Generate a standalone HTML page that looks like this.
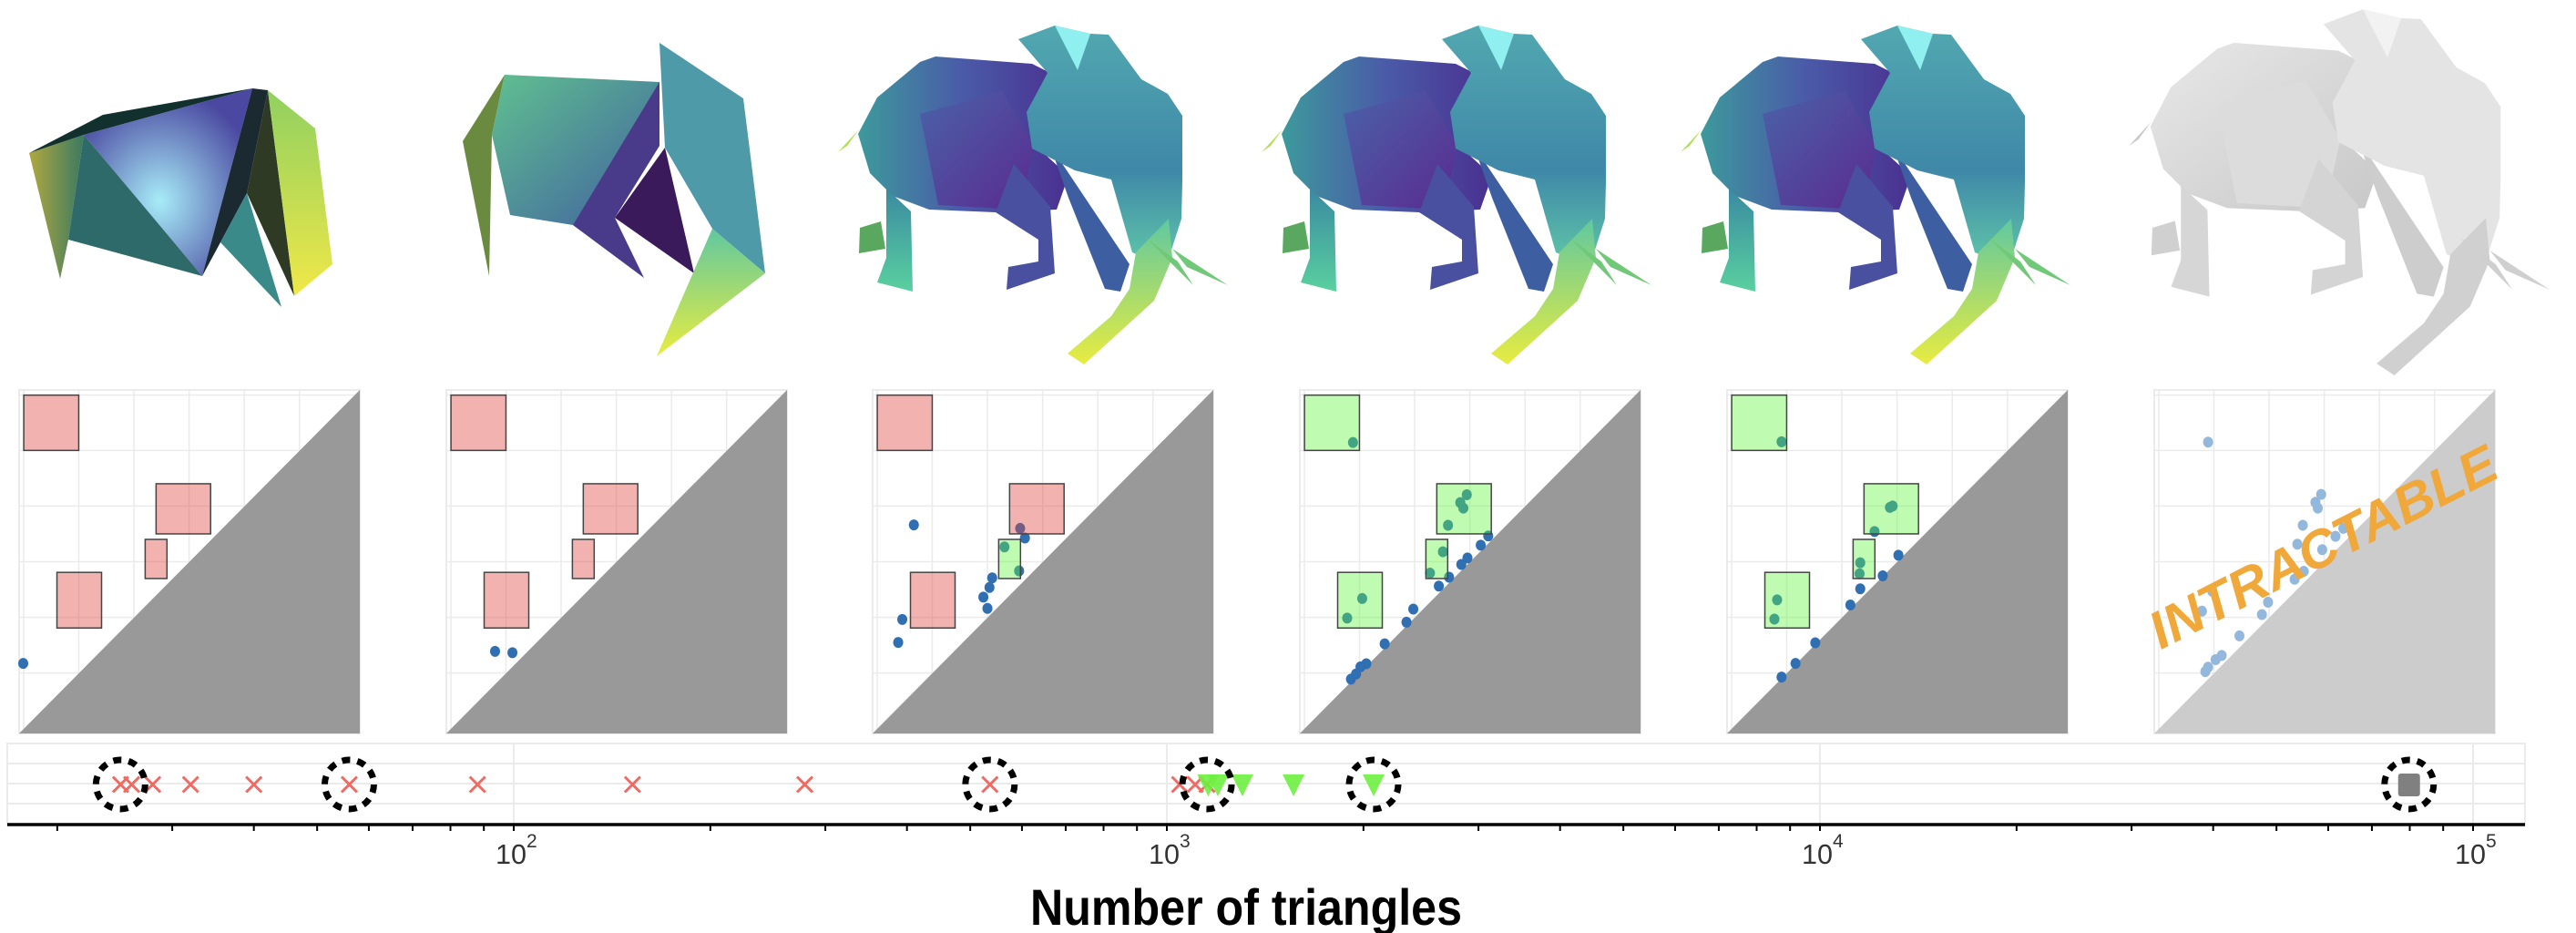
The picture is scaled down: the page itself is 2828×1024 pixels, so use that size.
<!DOCTYPE html>
<html><head><meta charset="utf-8"><style>
html,body{margin:0;padding:0;background:#fff;}
svg{display:block;}
</style></head><body>
<svg id="fig" width="2828" height="1024" viewBox="0 0 2828 1024" xmlns="http://www.w3.org/2000/svg">
<defs>
<linearGradient id="gBody" x1="0" y1="0" x2="1" y2="0"><stop offset="0" stop-color="#3d9a9c"/><stop offset="0.5" stop-color="#4a5aa8"/><stop offset="1" stop-color="#4a3090"/></linearGradient>
<linearGradient id="gHead" x1="0" y1="0" x2="0" y2="1"><stop offset="0" stop-color="#52a8b0"/><stop offset="0.6" stop-color="#3f88a8"/><stop offset="1" stop-color="#60c8a8"/></linearGradient>
<linearGradient id="gTrunk" x1="0" y1="0" x2="0" y2="1"><stop offset="0" stop-color="#60c8a0"/><stop offset="1" stop-color="#e8ec40"/></linearGradient>
<linearGradient id="gLeg" x1="0" y1="0" x2="0" y2="1"><stop offset="0" stop-color="#3a8aa0"/><stop offset="1" stop-color="#5ad0a0"/></linearGradient>
<linearGradient id="gGray" x1="0" y1="0" x2="1" y2="1"><stop offset="0" stop-color="#e8e8e8"/><stop offset="1" stop-color="#c8c8c8"/></linearGradient>
<linearGradient id="gFlank" x1="0" y1="0" x2="1" y2="1"><stop offset="0" stop-color="#4a62a8"/><stop offset="1" stop-color="#5a2a90"/></linearGradient>
<radialGradient id="gLight" cx="0.45" cy="0.6" r="0.6"><stop offset="0" stop-color="#a8ecf8"/><stop offset="1" stop-color="#4a48a0"/></radialGradient>
<linearGradient id="gYel" x1="0" y1="0" x2="0" y2="1"><stop offset="0" stop-color="#90d060"/><stop offset="1" stop-color="#f0e848"/></linearGradient>
<linearGradient id="gOlive" x1="0" y1="0" x2="1" y2="0"><stop offset="0" stop-color="#b0a840"/><stop offset="1" stop-color="#3a7a60"/></linearGradient>
<linearGradient id="gTeal2" x1="0" y1="0" x2="1" y2="1"><stop offset="0" stop-color="#60c090"/><stop offset="1" stop-color="#4060a0"/></linearGradient>
</defs>
<g id="meshes"></g>
<g id="panels"></g>
<g id="strip"></g>
</svg>
<script>
// ---- strip data ----
const crossCounts = [25, 26, 28, 32, 40, 56, 88, 152, 279, 536, 1046, 1105, 1152];
const triCounts = [1157, 1197, 1305, 1563, 2073];
const squareCounts = [79800];
const circledCounts = [25, 56, 536, 1152, 2073, 79800];
const decadeLabels = ["2", "3", "4", "5"];
const decadeValues = [100, 1000, 10000, 100000];

// ---- panel data (u: birth fraction, v: death fraction) ----
const boxU0 = [0.0136, 0.402, 0.370, 0.111];
const boxU1 = [0.175, 0.562, 0.434, 0.242];
const boxV0 = [0.824, 0.581, 0.451, 0.307];
const boxV1 = [0.985, 0.727, 0.565, 0.469];
const panelBoxKinds = [
  ["r","r","r","r"],["r","r","r","r"],["r","r","g","r"],
  ["g","g","g","g"],["g","g","g","g"],[]
];
const p1u=[0.012], p1v=[0.204];
const p2u=[0.143,0.194], p2v=[0.239,0.235];
const p3u=[0.121,0.087,0.075,0.433,0.447,0.387,0.430,0.351,0.343,0.325,0.337];
const p3v=[0.607,0.332,0.265,0.597,0.569,0.543,0.473,0.453,0.425,0.397,0.364];
const p4u=[0.156,0.490,0.471,0.480,0.435,0.553,0.531,0.492,0.474,0.420,0.382,0.438,0.408,0.183,0.139,0.333,0.313,0.249,0.195,0.178,0.165,0.150];
const p4v=[0.847,0.695,0.672,0.656,0.606,0.575,0.548,0.511,0.492,0.529,0.467,0.455,0.429,0.393,0.336,0.362,0.324,0.261,0.203,0.194,0.173,0.158];
const p5u=[0.160,0.478,0.486,0.433,0.391,0.389,0.503,0.457,0.391,0.362,0.147,0.139,0.259,0.201,0.160];
const p5v=[0.849,0.658,0.662,0.588,0.497,0.465,0.519,0.459,0.421,0.374,0.389,0.333,0.264,0.204,0.164];
const p6u=[0.158,0.490,0.473,0.480,0.436,0.555,0.532,0.493,0.420,0.439,0.412,0.170,0.140,0.334,0.316,0.250,0.198,0.180,0.158,0.150];
const p6v=[0.848,0.696,0.673,0.656,0.606,0.597,0.574,0.535,0.551,0.472,0.449,0.414,0.356,0.382,0.346,0.284,0.227,0.215,0.193,0.180];
const panelU=[p1u,p2u,p3u,p4u,p5u,p6u];
const panelV=[p1v,p2v,p3v,p4v,p5v,p6v];
const gridU=[0.0135,0.175,0.337,0.499,0.661,0.823];
const gridV=[0.985,0.824,0.662,0.500,0.338,0.176];

const NS="http://www.w3.org/2000/svg";
function mk(tag, parent, attrs){const e=document.createElementNS(NS,tag);for(const k in attrs)e.setAttribute(k,attrs[k]);parent.appendChild(e);return e;}

// ---- meshes ----
const meshes=document.getElementById('meshes');
function poly(g,pts,fill,name){const p=mk('polygon',g,{points:pts,fill:fill});


return p;}
// mesh 1
(function(){const g=mk('g',meshes,{});


poly(g,"32,168 92,148 75,263 66,306","url(#gOlive)","mesh-facet");
poly(g,"32,168 113,126 277,97 92,148","#12302e","mesh-facet");
poly(g,"92,148 277,97 222,303","url(#gLight)","mesh-facet");
poly(g,"92,148 222,303 75,263","#2e6a6a","mesh-facet");
poly(g,"277,97 294,99 271,212 242,266 222,303","#1a2a30","mesh-facet");
poly(g,"271,212 242,266 309,337","#3a8a8a","mesh-facet");
poly(g,"294,99 323,325 271,212","#2f3a24","mesh-facet");
poly(g,"294,99 346,141 365,290 323,325","url(#gYel)","mesh-facet");
})();
// mesh 2
(function(){const g=mk('g',meshes,{});


poly(g,"508,155 554,82 540,148 537,303","#6a8a40","mesh-facet");
poly(g,"554,82 724,90 724,160 629,247 560,236 540,148","url(#gTeal2)","mesh-facet");
poly(g,"629,247 724,90 724,160 675,239 707,305","#4a3a8a","mesh-facet");
poly(g,"675,239 730,162 762,300","#3a1a5a","mesh-facet");
poly(g,"724,47 816,108 840,300 782,251 730,162","#4f9aa8","mesh-facet");
poly(g,"782,251 840,300 721,391 765,290","url(#gTrunk)","mesh-facet");
})();
// elephant template
function elephant(ox,oy,s,gray,name){
  const g=mk('g',meshes,{transform:`translate(${ox},${oy}) scale(${s})`});
  
  
  const c=gray?{body:"url(#gGray)",purple:"#dcdcdc",leg:"#d6d6d6",head:"#e4e4e4",hi:"#f2f2f2",trunk:"#d0d0d0",tusk:"#cfcfcf",tail:"#c8c8c8",foot:"#d0d0d0",front:"#cdcdcd"}
    :{body:"url(#gBody)",purple:"url(#gFlank)",leg:"url(#gLeg)",head:"url(#gHead)",hi:"#90f0f0",trunk:"url(#gTrunk)",tusk:"#70c878",tail:"#b0e050",foot:"#5aa860",front:"#3d5ea0"};
  poly(g,"0,167 23,142 10,160",c.tail,"tail");
  poly(g,"24,250 47,243 52,273 23,278",c.foot,"back-foot");
  poly(g,"22,147 43,107 90,68 107,62 213,70 233,80 217,160 253,193 240,230 173,233 100,230 60,215 35,190",c.body,"body");
  poly(g,"90,125 180,100 215,160 200,230 110,225",c.purple,"flank");
  poly(g,"53,207 80,232 82,320 43,310 53,283",c.leg,"back-leg");
  poly(g,"233,160 320,290 310,320 293,317 253,217",c.front,"front-leg");
  poly(g,"173,233 193,180 233,227 238,300 185,318 187,293 220,287 220,263",gray?"#d4d4d4":"#4a50a0","mid-leg");
  poly(g,"198,43 238,28 277,37 297,38 333,87 362,103 378,127 378,200 377,240 360,293 323,277 300,197 260,187 213,163 207,123 230,80",c.head,"head");
  poly(g,"238,28 277,37 263,77",c.hi,"ear-highlight");
  poly(g,"327,277 363,240 367,283 347,330 270,400 252,388 300,347 320,317",c.trunk,"trunk");
  poly(g,"337,260 390,313 373,287",c.tusk,"tusk");
  poly(g,"367,273 428,313 383,293",c.tusk,"tusk");
}
elephant(920,0,1,false,'mesh-3');
elephant(1385,0,1,false,'mesh-4');
elephant(1845,0,1,false,'mesh-5');
elephant(2337,-20,1.08,true,'mesh-6');

// ---- panels ----
const panels=document.getElementById('panels');
const panelX=[21,490,958,1427,1896,2365], PY=428, PW=374, PH=377;
for(let i=0;i<6;i++){
  const x0=panelX[i];
  const sx=u=>x0+u*PW, sy=v=>PY+(1-v)*PH;
  const g=mk('g',panels,{});
  
  
  const bg=mk('rect',g,{x:x0,y:PY,width:PW,height:PH,fill:'#fff',stroke:'#ebebeb','stroke-width':2});
  
  
  gridU.forEach(u=>{const l=mk('line',g,{x1:sx(u),x2:sx(u),y1:PY,y2:PY+PH,stroke:'#ebebeb','stroke-width':1.5});
    
    });
  gridV.forEach(v=>{const l=mk('line',g,{x1:x0,x2:x0+PW,y1:sy(v),y2:sy(v),stroke:'#ebebeb','stroke-width':1.5});
    
    });
  const tri=mk('polygon',g,{points:`${sx(0)},${sy(0)} ${sx(1)},${sy(1)} ${sx(1)},${sy(0)}`,fill:i===5?'#cccccc':'#999999'});
  
  
  const us=panelU[i], vs=panelV[i];
  for(let k=0;k<us.length;k++){
    const c=mk('ellipse',g,{cx:sx(us[k]),cy:sy(vs[k]),rx:5.5,ry:6,fill:i===5?'#94b8dc':'#2f6fb2'});
    
    
  }
  const kinds=panelBoxKinds[i];
  for(let k=0;k<kinds.length;k++){
    const r=mk('rect',g,{x:sx(boxU0[k]),y:sy(boxV1[k]),width:sx(boxU1[k])-sx(boxU0[k]),height:sy(boxV0[k])-sy(boxV1[k]),
      fill:kinds[k]==='r'?'rgb(222,65,57)':'rgb(95,245,60)','fill-opacity':0.4,stroke:'#444','stroke-width':1.5});
    
    
  }
  if(i===5){
    const t=mk('text',g,{x:2551,y:620,'text-anchor':'middle','font-family':'Liberation Sans, sans-serif','font-weight':'bold','font-style':'italic','font-size':58,fill:'#f0a83a',transform:'rotate(-27 2551 602)',textLength:420,lengthAdjust:'spacingAndGlyphs'});
    t.textContent='INTRACTABLE';
    
    
  }
}

// ---- strip ----
const strip=document.getElementById('strip');
const lx=n=>564+717*Math.log10(n/100);
const MY=861;
const sbg=mk('rect',strip,{x:8,y:816,width:2764,height:89,fill:'#fff',stroke:'#ebebeb','stroke-width':2});


[838,860,882].forEach(y=>{const l=mk('line',strip,{x1:8,x2:2772,y1:y,y2:y,stroke:'#ebebeb','stroke-width':2});
  
  });
decadeValues.forEach(v=>{const l=mk('line',strip,{x1:lx(v),x2:lx(v),y1:816,y2:905,stroke:'#ebebeb','stroke-width':2});
  
  });
crossCounts.forEach(n=>{const x=lx(n);
  const p=mk('path',strip,{d:`M${x-8.5},${MY-8.5}L${x+8.5},${MY+8.5}M${x+8.5},${MY-8.5}L${x-8.5},${MY+8.5}`,stroke:'#f06a63','stroke-width':3,fill:'none'});
  
  });
triCounts.forEach(n=>{const x=lx(n);
  const p=mk('polygon',strip,{points:`${x-12},${MY-11} ${x+12},${MY-11} ${x},${MY+13}`,fill:'#6ef040','fill-opacity':0.9});
  
  });
squareCounts.forEach(n=>{const x=lx(n);
  const p=mk('rect',strip,{x:x-12,y:MY-12,width:24,height:25,rx:3,fill:'#808080'});
  
  });
circledCounts.forEach(n=>{const x=lx(n);
  const c=mk('circle',strip,{cx:x,cy:MY,r:27,fill:'none',stroke:'#000','stroke-width':7,'stroke-dasharray':'9 8'});
  
  });
const ax=mk('line',strip,{x1:8,x2:2772,y1:905,y2:905,stroke:'#000','stroke-width':3.5});


for(let d=10;d<=100000;d*=10){for(let m=1;m<10;m++){const n=d*m;if(n<20||n>100000)continue;
  const x=lx(n);if(x<8||x>2772)continue;
  const t=mk('line',strip,{x1:x,x2:x,y1:905,y2:912,stroke:'#000','stroke-width':2});
  
  }}
decadeValues.forEach((v,i)=>{const x=lx(v);
  const t=mk('text',strip,{x:x-20,y:948,'font-family':'Liberation Sans, sans-serif','font-size':31,fill:'#333',textLength:34,lengthAdjust:'spacingAndGlyphs'});
  t.textContent='10';
  
  
  const s=mk('text',strip,{x:x+14,y:930,'font-family':'Liberation Sans, sans-serif','font-size':21,fill:'#333'});
  s.textContent=decadeLabels[i];
  
  });
const title=mk('text',strip,{x:1131,y:1015,'font-family':'Liberation Sans, sans-serif','font-weight':'bold','font-size':56,fill:'#000',textLength:474,lengthAdjust:'spacingAndGlyphs'});
title.textContent='Number of triangles';


</script>
</body></html>
